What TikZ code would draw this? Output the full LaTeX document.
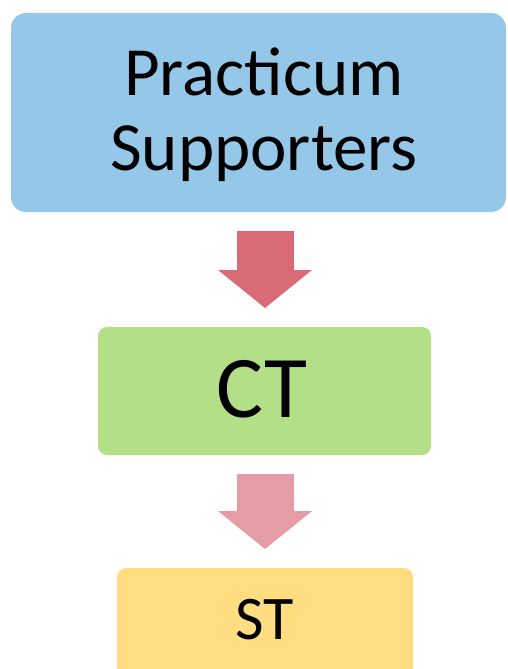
\documentclass[tikz,border=0pt]{standalone}
\usepackage{fontspec}
\setmainfont{Carlito}
\usetikzlibrary{arrows.meta}
\definecolor{boxblue}{HTML}{95C8E8}
\definecolor{boxgreen}{HTML}{B3DF86}
\definecolor{boxyellow}{HTML}{FFDD80}
\definecolor{arrowred}{HTML}{D96B76}
\definecolor{arrowpink}{HTML}{E69CA5}
\begin{document}
\begin{tikzpicture}[x=1pt,y=-1pt,
  card/.style={draw=none, inner sep=0pt, outer sep=0pt},
  flow/.style={line width=57pt, line cap=butt,
    -{Triangle[width=94pt,length=38pt,line width=0pt]},
    shorten <=19pt, shorten >=19pt}]
  \useasboundingbox (0,0) rectangle (507,669);
  \clip (0,0) rectangle (507,669);
  % boxes
  \node[card, fill=boxblue, rounded corners=15pt,
        minimum width=495pt, minimum height=199pt] (top) at (258.5,112.5) {};
  \node[card, fill=boxgreen, rounded corners=9pt,
        minimum width=333pt, minimum height=128pt] (ct) at (264.5,391) {};
  \node[card, fill=boxyellow, rounded corners=9pt,
        minimum width=296pt, minimum height=130pt] (st) at (265,633) {};
  % labels (base anchor of a multi-line node sits on its last line)
  \node[anchor=base, align=center, inner sep=0pt,
        font=\fontsize{69pt}{75pt}\selectfont] (toptext) at (264,170)
        {Practicum\\Supporters};
  \node[anchor=base, inner sep=0pt, font=\fontsize{88pt}{90pt}\selectfont]
        (cttext) at (262,417) {CT};
  \node[anchor=base, inner sep=0pt, font=\fontsize{62pt}{70pt}\selectfont]
        (sttext) at (265,639) {ST};
  % flow arrows
  \coordinate (ax) at (265,0);
  \draw[flow, arrowred] (top.south -| ax) -- (ct.north -| ax);
  \draw[flow, arrowpink] (ct.south -| ax) -- (st.north -| ax);
\end{tikzpicture}
\end{document}
